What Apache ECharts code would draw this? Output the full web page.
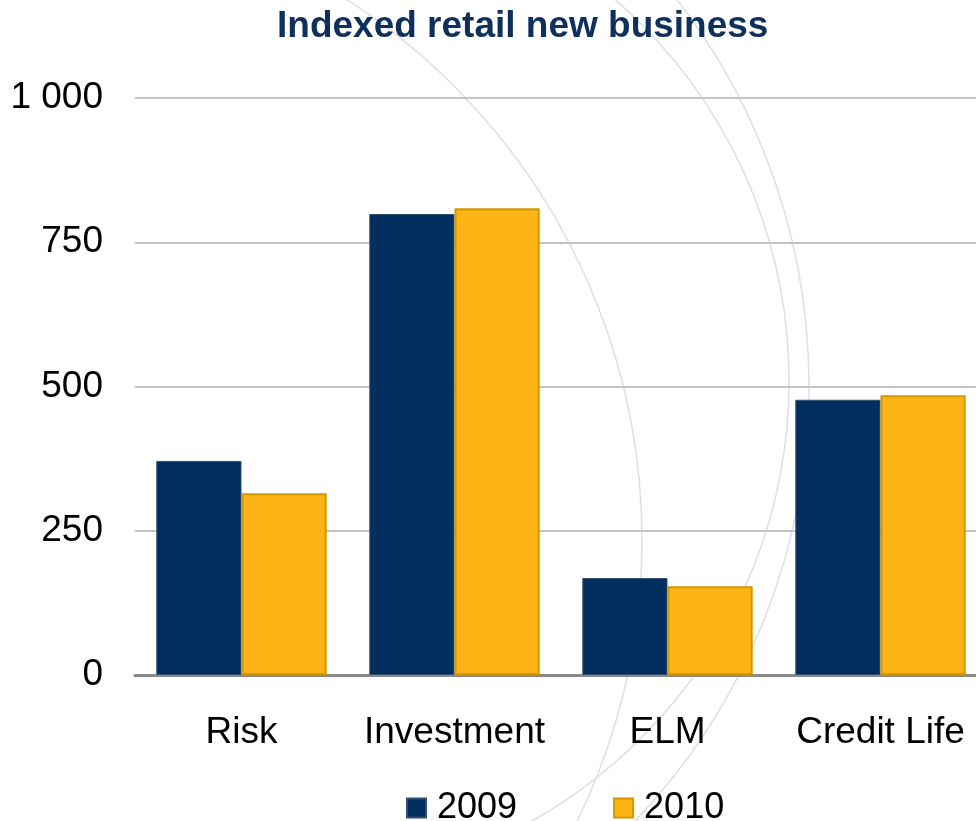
<!DOCTYPE html>
<html>
<head>
<meta charset="utf-8">
<script src="https://cdn.jsdelivr.net/npm/echarts@6/dist/echarts.min.js"></script>
<style>
  html, body { margin: 0; padding: 0; background: #ffffff; }
  #chart { width: 976px; height: 821px; }
</style>
</head>
<body>
<div id="chart"></div>
<script>
// Indexed retail new business by product line
const categories = ['Risk', 'Investment', 'ELM', 'Credit Life'];
const values2009 = [371, 799, 168, 477];
const values2010 = [315, 809, 154, 485];
const seriesNames = ['2009', '2010'];
const yTicks = { min: 0, max: 1000, interval: 250 };

const FONT = '"Liberation Sans", Arial, sans-serif';
const NAVY = '#002e5f';
const GOLD = '#fdb515';

const chart = echarts.init(document.getElementById('chart'), null, { renderer: 'canvas' });

// faint decorative swoosh lines in the background
const arcStyle = { fill: null, stroke: '#dedee8', lineWidth: 1.5 };
const swooshes = [
  { cx: 0, cy: 540, r: 642 },
  { cx: 178, cy: 386, r: 631 },
  { cx: 284, cy: 381, r: 505 }
].map(a => ({
  type: 'arc',
  z: -10,
  silent: true,
  shape: { cx: a.cx, cy: a.cy, r: a.r, startAngle: -Math.PI / 2, endAngle: Math.PI / 2, clockwise: true },
  style: arcStyle
}));

chart.setOption({
  animation: false,
  backgroundColor: '#ffffff',
  graphic: swooshes,
  title: {
    text: 'Indexed retail new business',
    left: 277,
    top: 8,
    padding: 0,
    textStyle: { fontFamily: FONT, fontSize: 37, fontWeight: 'bold', color: '#0f305c', lineHeight: 37 }
  },
  legend: {
    data: seriesNames,
    left: 406,
    top: 789,
    itemWidth: 19,
    itemHeight: 19,
    itemGap: 96,
    padding: 0,
    icon: 'rect',
    textStyle: { fontFamily: FONT, fontSize: 36, color: '#000000', padding: [0, 0, 0, 6], lineHeight: 38 }
  },
  // the plot runs a little past the right edge of the canvas
  grid: { left: 135, top: 98, right: -11, bottom: 146, containLabel: false, outerBoundsMode: 'none' },
  xAxis: {
    type: 'category',
    data: categories,
    axisTick: { show: false },
    axisLine: { lineStyle: { color: '#8a8a8a', width: 3 } },
    axisLabel: { fontFamily: FONT, fontSize: 37, color: '#000000', margin: 39, lineHeight: 37, interval: 0 }
  },
  yAxis: {
    type: 'value',
    min: yTicks.min,
    max: yTicks.max,
    interval: yTicks.interval,
    axisLine: { show: false },
    axisTick: { show: false },
    splitLine: { lineStyle: { color: '#c4c4c4', width: 2 } },
    axisLabel: {
      fontFamily: FONT, fontSize: 37, color: '#000000', margin: 32,
      formatter: v => v >= 1000 ? String(v).replace(/\B(?=(\d{3})+(?!\d))/g, ' ') : String(v)
    }
  },
  series: [
    {
      name: seriesNames[0],
      type: 'bar',
      data: values2009,
      barGap: '0%',
      barCategoryGap: '20%',
      itemStyle: { color: NAVY, borderColor: '#34506f', borderWidth: 1 }
    },
    {
      name: seriesNames[1],
      type: 'bar',
      data: values2010,
      itemStyle: { color: GOLD, borderColor: '#d29600', borderWidth: 2 }
    }
  ]
});
</script>
</body>
</html>
